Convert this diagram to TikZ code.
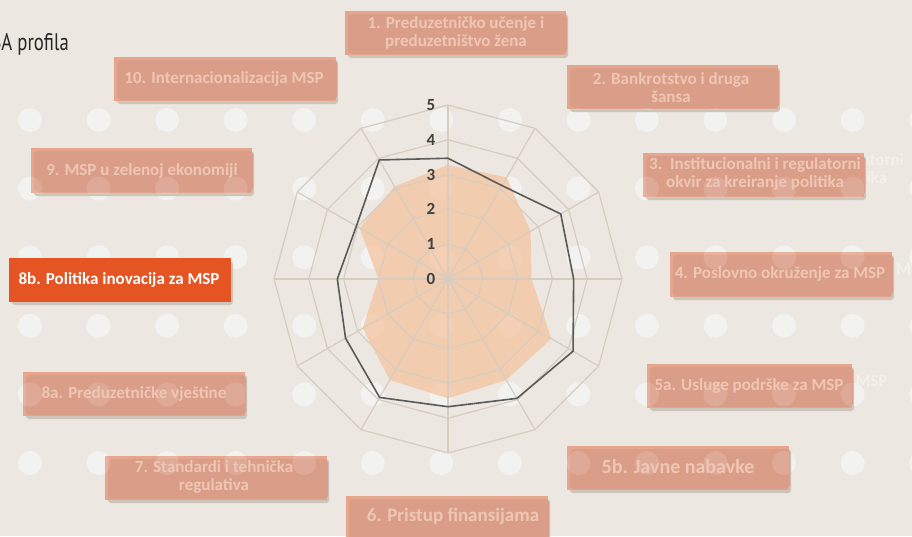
\documentclass[tikz,border=0pt]{standalone}
\usepackage{fontspec}
\setmainfont{Carlito}
\newfontfamily\titlefont{PT Sans}
\usetikzlibrary{calc}
\definecolor{bgc}{HTML}{ECE7E0}
\definecolor{dotc}{HTML}{F2F2F0}
\definecolor{gridc}{HTML}{D6CCBF}
\definecolor{outlc}{HTML}{5A5A5A}
\definecolor{areac}{HTML}{F5C29D}
\definecolor{boxouter}{HTML}{E5A68D}
\definecolor{boxinner}{HTML}{DA9E88}
\definecolor{boxtext}{HTML}{EEC6B4}
\definecolor{ghostc}{HTML}{F4F0EB}
\definecolor{hlc}{HTML}{E55524}
\definecolor{shadowc}{HTML}{CDC4BB}
\definecolor{numc}{HTML}{404040}
\newcommand\dotgrid[1]{\foreach \i in {0,...,13}{\foreach \j in {0,...,5}{\fill[#1] ({30+68.55*\i},{120+68.6*\j}) circle (12pt);}}}
\newcommand\boxbg[4]{%
  \fill[shadowc, rounded corners=3pt] ({#1+3},{#2+3}) rectangle ({#3+2},{#4+3});
  \fill[boxouter] (#1,#2) rectangle (#3,#4);
  \fill[boxinner, rounded corners=4pt] ({#1+3},{#2+3}) rectangle ({#3+1},{#4-1});
  \begin{scope}\clip (#1,#2) rectangle (#3,#4);\dotgrid{white, opacity=.13}\end{scope}}
\tikzset{
  boxtxt/.style={text=boxtext, font=\fontsize{17}{18}\selectfont\bfseries, align=center, inner sep=0pt},
  ghost/.style={text=ghostc, font=\fontsize{17}{18}\selectfont\bfseries, align=center, inner sep=0pt},
  numlab/.style={text=numc, font=\fontsize{17}{17}\selectfont\bfseries, inner sep=0pt},
  gridline/.style={draw=gridc, line width=1.2pt},
}
\begin{document}
\begin{tikzpicture}[x=1pt,y=-1pt]
\useasboundingbox (0,0) rectangle (912,536);
\fill[bgc] (0,0) rectangle (912,536);
% dots
\dotgrid{dotc}
% title
\node[anchor=base east, inner sep=0pt, text=black!85] (title) at (69,50) {\titlefont\fontsize{24}{24}\selectfont\scalebox{0.78}[1]{SBA profila}};
% radar
\foreach \a/\v [count=\k] in {90/3.28,60/3.37,30/2.74,0/2.4,-30/3.43,-60/3.35,-90/3.43,-120/3.35,-150/2.83,-180/2.0,-210/2.93,-240/3.07}
  \coordinate (f\k) at ({448+34.8*\v*cos(\a)},{279-34.8*\v*sin(\a)});
\foreach \a/\v [count=\k] in {90/3.47,60/3.1,30/3.74,0/3.61,-30/4.15,-60/3.96,-90/3.67,-120/3.93,-150/3.4,-180/3.18,-210/3.04,-240/3.95}
  \coordinate (o\k) at ({448+34.8*\v*cos(\a)},{279-34.8*\v*sin(\a)});
\fill[areac, opacity=.72] (f1) \foreach \k in {2,...,12}{ -- (f\k)} -- cycle;
\foreach \l in {1,...,5}
  \draw[gridline] ({448+34.8*\l*cos(90)},{279-34.8*\l*sin(90)}) \foreach \a in {60,30,...,-240}{ -- ({448+34.8*\l*cos(\a)},{279-34.8*\l*sin(\a)})} -- cycle;
\foreach \a in {90,60,...,-240}
  \draw[gridline] (448,279) -- ({448+174*cos(\a)},{279-174*sin(\a)});
\draw[outlc, line width=1.6pt, line join=round] (o1) \foreach \k in {2,...,12}{ -- (o\k)} -- cycle;
\foreach \n in {0,...,5}
  \node[numlab] (n\n) at (431,{279-34.8*\n}) {\n};
% ghost texts
\node[ghost] (g3) at (798,170) {3.\ \ Institucionalni i regulatorni\\ okvir za kreiranje politika};
\node[ghost] (g4) at (823,270) {4. Poslovno okruženje za MSP};
\node[ghost] (g5a) at (793,382) {5a. Usluge podrške za MSP};
% boxes
\boxbg{345}{11}{566}{55}
\node[boxtxt] (t1) at (456,33) {1. Preduzetničko učenje i\\ preduzetništvo žena};
\boxbg{114}{57}{336}{101}
\node[boxtxt] (t10) at (224,79) {10. Internacionalizacija MSP};
\boxbg{567}{65}{778}{109}
\node[boxtxt] (t2) at (671,88) {2. Bankrotstvo i druga\\ šansa};
\boxbg{31}{148}{252}{193}
\node[boxtxt] (t9) at (142,171) {9. MSP u zelenoj ekonomiji};
\boxbg{643}{153}{864}{197}
\node[boxtxt] (t3) at (755,174) {3.\ \ Institucionalni i regulatorni\\ okvir za kreiranje politika};
\boxbg{670}{252}{892}{297}
\node[boxtxt] (t4) at (780,274) {4. Poslovno okruženje za MSP};
\boxbg{647}{364}{852}{408}
\node[boxtxt] (t5a) at (749,386) {5a. Usluge podrške za MSP};
\boxbg{567}{446}{789}{490}
\node[boxtxt, font=\fontsize{20}{20}\selectfont\bfseries] (t5b) at (678,467) {5b. Javne nabavke};
\boxbg{346}{496}{548}{541}
\node[boxtxt, font=\fontsize{19}{19}\selectfont\bfseries] (t6) at (453,516) {6. Pristup finansijama};
\boxbg{105}{456}{327}{500}
\node[boxtxt] (t7) at (214,477) {7. Standardi i tehnička\\ regulativa};
\boxbg{23}{372}{245}{416}
\node[boxtxt] (t8a) at (134,394) {8a. Preduzetničke vještine};
% highlighted box
\fill[shadowc, rounded corners=3pt] (12,261) rectangle (233,305);
\fill[hlc] (9,258) rectangle (231,302);
\node[boxtxt, text=white] (t8b) at (119,280) {8b. Politika inovacija za MSP};
\end{tikzpicture}
\end{document}
